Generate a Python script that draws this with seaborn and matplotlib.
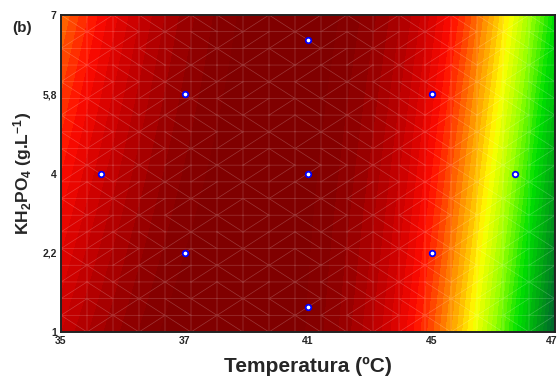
import numpy as np
import pandas as pd
import matplotlib
matplotlib.use("Agg")
import matplotlib.pyplot as plt
import matplotlib.tri as mtri
import matplotlib.transforms as mtrans
from matplotlib.colors import LinearSegmentedColormap
import seaborn as sns

# Coded design levels (central composite design, alpha = 1.68)
design_x = [-1.68, -1, -1, 0, 0, 0, 1, 1, 1.68]
design_y = [0, 1, -1, 0, 1.68, -1.68, 1, -1, 0]

# Axis tick positions (coded) and labels
tick_pos = [-2, -1, 0, 1, 2]
x_labels = ["35", "37", "41", "45", "47"]
y_labels = ["1", "2,2", "4", "5,8", "7"]

# Fitted response surface coefficients (coded variables, normalised response)
b0, b1, b2 = 1.008, -0.099, 0.006
b11, b22, b12 = -0.145, 0.0, 0.028
b111 = -0.0153

sns.set_theme(style="white")
plt.rcParams["font.family"] = ["Liberation Sans", "DejaVu Sans"]
plt.rcParams["mathtext.fontset"] = "custom"
plt.rcParams["mathtext.rm"] = "Liberation Sans:bold"
plt.rcParams["mathtext.bf"] = "Liberation Sans:bold"
plt.rcParams["mathtext.default"] = "bf"

fig = plt.figure(figsize=(5.59, 3.87), dpi=100)
ax = fig.add_axes([61/559, 1-332/387, (555-61)/559, (332-15)/387])

gx = np.linspace(-2, 2, 201)
gy = np.linspace(-2, 2, 201)
X, Y = np.meshgrid(gx, gy)
Z = b0 + b1*X + b2*Y + b11*X**2 + b22*Y**2 + b12*X*Y + b111*X**3

cols = [(0.00, (0/255, 100/255, 45/255)),
        (0.12, (0/255, 160/255, 20/255)),
        (0.25, (0/255, 225/255, 0/255)),
        (0.38, (150/255, 255/255, 0/255)),
        (0.50, (255/255, 255/255, 0/255)),
        (0.62, (255/255, 140/255, 0/255)),
        (0.75, (255/255, 10/255, 0/255)),
        (0.85, (200/255, 0/255, 0/255)),
        (0.95, (148/255, 0/255, 0/255)),
        (1.00, (128/255, 0/255, 0/255))]
cmap = LinearSegmentedColormap.from_list("stat", cols)
cmap.set_over((128/255, 0, 0))
cmap.set_under((0, 90/255, 45/255))
levels = np.linspace(0, 1, 41)
ax.contourf(X, Y, Z, levels=levels, cmap=cmap, extend="both")

# faint mesh lines
mx, my = np.meshgrid(np.linspace(-2, 2, 20), np.linspace(-2, 2, 20))
tri = mtri.Triangulation(mx.ravel(), my.ravel())
ax.triplot(tri, color="white", lw=0.5, alpha=0.22)

df = pd.DataFrame({"x": design_x, "y": design_y})
sns.scatterplot(data=df, x="x", y="y", ax=ax, marker="o", s=16,
                facecolor="white", edgecolor="#0000ff", linewidth=1.3, zorder=5)

ax.set_xlim(-2, 2)
ax.set_ylim(-2, 2)
ax.set_xticks(tick_pos)
ax.set_xticklabels(x_labels, fontsize=7.5, fontweight="bold")
ax.set_yticks(tick_pos)
ax.set_yticklabels(y_labels, fontsize=7.5, fontweight="bold")
ax.tick_params(direction="in", length=3, width=1, color="black", pad=3)
last = ax.get_xticklabels()[-1]
last.set_transform(last.get_transform() + mtrans.ScaledTranslation(-3/100, 0, fig.dpi_scale_trans))

secx = ax.secondary_xaxis("top")
secx.set_xticks(np.arange(-1.5, 2.0, 0.5))
secx.tick_params(direction="in", length=3, width=1, labeltop=False)
secy = ax.secondary_yaxis("right")
secy.set_yticks(np.arange(-1.5, 2.0, 0.5))
secy.tick_params(direction="in", length=3, width=1, labelright=False)
for s in [secx, secy]:
    for sp in s.spines.values():
        sp.set_visible(False)

for sp in ax.spines.values():
    sp.set_color("#222222")
    sp.set_linewidth(1.4)

ax.set_xlabel("Temperatura (ºC)", fontsize=15, fontweight="bold", labelpad=8)
ax.set_ylabel(r"KH$_2$PO$_4$ (g.L$^{-1}$)", fontsize=12.5, fontweight="bold", labelpad=6)
fig.text(22/559, 1-28/387, "(b)", fontsize=11, fontweight="bold", ha="center", va="center")

fig.savefig("out.png", dpi=100)
